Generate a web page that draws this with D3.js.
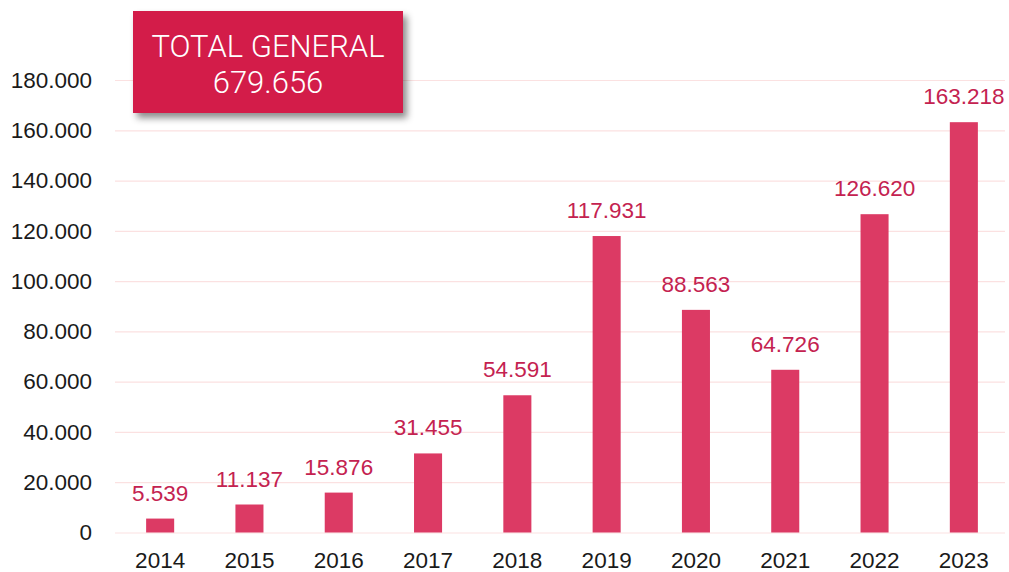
<!DOCTYPE html>
<html>
<head>
<meta charset="utf-8">
<script src="https://cdn.jsdelivr.net/npm/d3@7"></script>
<style>
  body { margin: 0; background: #fff; }
  svg { display: block; }
</style>
</head>
<body>
<div id="container"></div>
<script>
/* DATA */
const years = ["2014", "2015", "2016", "2017", "2018", "2019", "2020", "2021", "2022", "2023"]
const values = [5539, 11137, 15876, 31455, 54591, 117931, 88563, 64726, 126620, 163218]
const yTicks = [0, 20000, 40000, 60000, 80000, 100000, 120000, 140000, 160000, 180000]
const totalTitle = "TOTAL GENERAL"
const totalValue = 679656

const data = years.map((y, i) => ({year: y, value: values[i]}))

/* CONSTANTS */
const width = 1009
const height = 572
const barColor = "#dc3a64"
const labelColor = "#c42250"
const gridColor = "#fbe1e1"

const es = d3.formatLocale({decimal: ",", thousands: ".", grouping: [3], currency: ["", "€"]})
const fmt = es.format(",")

const svg = d3.select("#container")
  .append("svg")
    .attr("width", width)
    .attr("height", height)
    .style("font-family", "'Liberation Sans', Arial, sans-serif")

// SCALES
const xScale = d3.scaleBand()
  .domain(years)
  .range([115.5, 1008.5])
  .paddingInner(0.686)
  .paddingOuter(0.343)

const yScale = d3.scaleLinear()
  .domain([0, 180000])
  .range([532.5, 80])

// GRID + Y AXIS
const yAxis = svg.append("g")
  .attr("transform", "translate(115,0)")
  .call(d3.axisLeft(yScale)
    .tickValues(yTicks)
    .tickFormat(d => fmt(d))
    .tickSize(-890)
    .tickPadding(23))
yAxis.select(".domain").remove()
yAxis.selectAll(".tick line")
  .attr("stroke", gridColor)
  .attr("stroke-width", 1.2)
yAxis.selectAll(".tick text")
  .attr("fill", "#1a1a1a")
  .style("font-size", "22.5px")
  .style("font-family", "'Liberation Sans', Arial, sans-serif")

// X AXIS
const xAxis = svg.append("g")
  .attr("transform", "translate(0,532.5)")
  .call(d3.axisBottom(xScale).tickSize(0).tickPadding(20))
xAxis.select(".domain").remove()
xAxis.selectAll(".tick text")
  .attr("fill", "#1a1a1a")
  .style("font-size", "22.5px")
  .style("font-family", "'Liberation Sans', Arial, sans-serif")

// BARS
svg.append("g")
  .selectAll("rect")
  .data(data)
  .join("rect")
    .attr("x", d => xScale(d.year))
    .attr("y", d => yScale(d.value))
    .attr("width", xScale.bandwidth())
    .attr("height", d => yScale(0) - yScale(d.value))
    .attr("fill", barColor)

// VALUE LABELS
svg.append("g")
  .selectAll("text")
  .data(data)
  .join("text")
    .attr("x", d => xScale(d.year) + xScale.bandwidth() / 2)
    .attr("y", d => yScale(d.value) - 18)
    .attr("text-anchor", "middle")
    .attr("fill", labelColor)
    .style("font-size", "22.5px")
    .text(d => fmt(d.value))

// TOTAL BOX
const defs = svg.append("defs")
const filter = defs.append("filter")
  .attr("id", "shadow")
  .attr("x", "-10%").attr("y", "-10%")
  .attr("width", "130%").attr("height", "140%")
filter.append("feDropShadow")
  .attr("dx", 4).attr("dy", 5)
  .attr("stdDeviation", 3.5)
  .attr("flood-color", "#000")
  .attr("flood-opacity", 0.45)

const box = svg.append("g")
box.append("rect")
  .attr("x", 133)
  .attr("y", 11)
  .attr("width", 270)
  .attr("height", 102)
  .attr("fill", "#d31a48")
  .attr("filter", "url(#shadow)")

box.append("text")
  .attr("x", 268)
  .attr("y", 57)
  .attr("text-anchor", "middle")
  .attr("fill", "#fff")
  .style("font-family", "Roboto, sans-serif")
  .style("font-weight", 300)
  .style("font-size", "31px")
  .text(totalTitle)

box.append("text")
  .attr("x", 268)
  .attr("y", 93)
  .attr("text-anchor", "middle")
  .attr("fill", "#fff")
  .style("font-family", "Roboto, sans-serif")
  .style("font-weight", 300)
  .style("font-size", "31px")
  .text(fmt(totalValue))
</script>
</body>
</html>
